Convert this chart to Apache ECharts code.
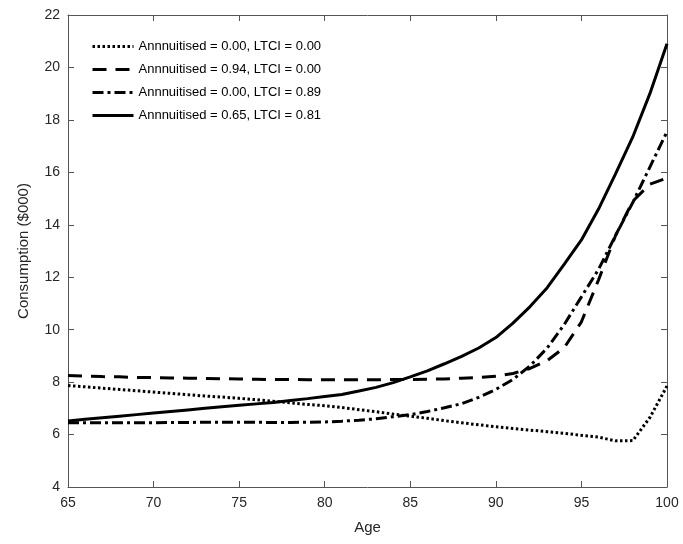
<!DOCTYPE html>
<html><head><meta charset="utf-8">
<script src="https://cdn.jsdelivr.net/npm/echarts@6/dist/echarts.min.js"></script>
<style>html,body{margin:0;padding:0;background:#fff}#c{width:683px;height:544px}</style>
</head><body><div id="c"></div>
<script>
const ages = [65,66,67,68,69,70,71,72,73,74,75,76,77,78,79,80,81,82,83,84,85,86,87,88,89,90,91,92,93,94,95,96,97,98,99,100];
const seriesNames = ['Annnuitised = 0.00, LTCI = 0.00','Annnuitised = 0.94, LTCI = 0.00','Annnuitised = 0.00, LTCI = 0.89','Annnuitised = 0.65, LTCI = 0.81'];
const dotted = [7.87,7.82,7.77,7.72,7.67,7.62,7.57,7.52,7.47,7.43,7.38,7.33,7.27,7.21,7.15,7.1,7.03,6.95,6.87,6.78,6.7,6.62,6.53,6.45,6.37,6.3,6.23,6.17,6.11,6.05,5.97,5.9,5.76,5.77,6.65,7.85];
const dashed = [8.25,8.23,8.21,8.2,8.18,8.17,8.16,8.15,8.14,8.13,8.12,8.11,8.1,8.1,8.09,8.09,8.09,8.09,8.09,8.1,8.1,8.11,8.12,8.15,8.18,8.22,8.33,8.52,8.82,9.32,10.3,11.9,13.6,14.9,15.55,15.78];
const dashDot = [6.45,6.45,6.45,6.45,6.45,6.45,6.46,6.46,6.47,6.47,6.47,6.47,6.46,6.46,6.47,6.48,6.51,6.55,6.6,6.68,6.76,6.88,7.02,7.18,7.42,7.72,8.1,8.62,9.3,10.2,11.25,12.3,13.6,14.85,16.2,17.55];
const solid = [6.52,6.58,6.64,6.7,6.76,6.82,6.88,6.94,7.0,7.06,7.12,7.17,7.22,7.3,7.37,7.45,7.53,7.66,7.8,7.98,8.2,8.43,8.7,8.98,9.3,9.7,10.25,10.88,11.6,12.5,13.42,14.6,15.95,17.35,19.0,20.9];
const xTicks = [65,70,75,80,85,90,95,100];
const yTicks = [4,6,8,10,12,14,16,18,20,22];

const pair = v => ages.map((a,i)=>[a,v[i]]);
const axisColor = '#555';
const txt = '#262626';
const font = 'Liberation Sans, Arial, Helvetica, sans-serif';
const chart = echarts.init(document.getElementById('c'));
const styles = [
  {type:[2.5,2.5], width:3},
  {type:[14,9], width:3},
  {type:[11,4,3,4], width:3},
  {type:'solid', width:3}
];
const data = [dotted, dashed, dashDot, solid];
chart.setOption({
  animation:false,
  backgroundColor:'#fff',
  grid:{left:68,right:16,top:15,bottom:57},
  legend:{
    left:86, top:35, orient:'vertical', itemGap:10, itemWidth:41, itemHeight:14,
    textStyle:{fontFamily:font,fontSize:13,color:'#000'},
    itemStyle:{color:'rgba(0,0,0,0)', borderColor:'rgba(0,0,0,0)', borderWidth:0, opacity:0},
    lineStyle:{width:3},
    data: seriesNames
  },
  xAxis:[{
    type:'value', min:65, max:100, interval:5, name:'Age', nameLocation:'middle', nameGap:33,
    nameTextStyle:{fontFamily:font,fontSize:15,color:txt},
    axisLine:{lineStyle:{color:axisColor,width:1}}, axisTick:{inside:true,length:6,lineStyle:{color:axisColor}},
    axisLabel:{fontFamily:font,fontSize:14,color:txt,margin:9}, splitLine:{show:false}
  },{
    type:'value', position:'top', min:65, max:100, interval:5,
    axisLine:{show:true,lineStyle:{color:axisColor,width:1}}, axisTick:{inside:true,length:6,lineStyle:{color:axisColor}},
    axisLabel:{show:false}, splitLine:{show:false}
  }],
  yAxis:[{
    type:'value', min:4, max:22, interval:2, name:'Consumption ($000)', nameLocation:'middle', nameGap:37,
    nameTextStyle:{fontFamily:font,fontSize:15,color:txt},
    axisLine:{show:true,lineStyle:{color:axisColor,width:1}}, axisTick:{show:true,inside:true,length:6,lineStyle:{color:axisColor}},
    axisLabel:{fontFamily:font,fontSize:14,color:txt,margin:8}, splitLine:{show:false}
  },{
    type:'value', position:'right', min:4, max:22, interval:2,
    axisLine:{show:true,lineStyle:{color:axisColor,width:1}}, axisTick:{show:true,inside:true,length:6,lineStyle:{color:axisColor}},
    axisLabel:{show:false}, splitLine:{show:false}
  }],
  series: data.map((d,i)=>({
    name:seriesNames[i], type:'line', data:pair(d), showSymbol:false, symbol:'none',
    lineStyle:{color:'#000', width:styles[i].width, type:styles[i].type, cap:'butt'},
    itemStyle:{color:'#000'}, clip:true
  }))
});
</script></body></html>
